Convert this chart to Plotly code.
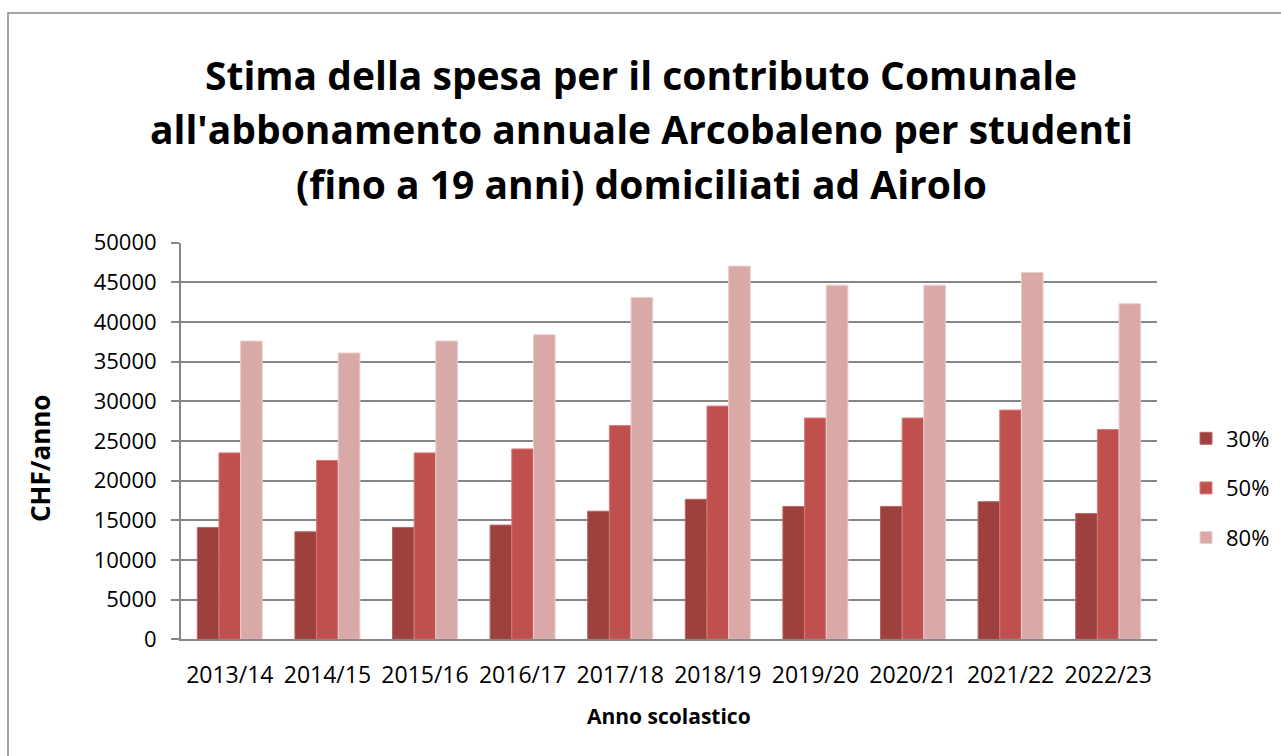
import plotly.graph_objects as go

W, H = 1281, 756

categories = ["2013/14", "2014/15", "2015/16", "2016/17", "2017/18",
              "2018/19", "2019/20", "2020/21", "2021/22", "2022/23"]
series_names = ["30%", "50%", "80%"]
values_30 = [14100, 13550, 14100, 14400, 16150, 17650, 16750, 16750, 17350, 15850]
values_50 = [23500, 22550, 23500, 24000, 26950, 29400, 27900, 27900, 28900, 26450]
values_80 = [37600, 36100, 37600, 38400, 43100, 47050, 44650, 44650, 46250, 42300]
y_ticks = list(range(0, 50001, 5000))
title_lines = ["Stima della spesa per il contributo Comunale",
               "all'abbonamento annuale Arcobaleno per studenti",
               "(fino a 19 anni) domiciliati ad Airolo"]

colors = ["#9E403E", "#C0504D", "#D9A9A8"]
edge = ["#B86664", "#D87C79", "#EBCFCE"]

font = "'Open Sans', sans-serif"

fig = go.Figure()
for name, vals, c, e in zip(series_names, [values_30, values_50, values_80], colors, edge):
    fig.add_trace(go.Bar(x=categories, y=vals, name=name, legendgroup=name,
                         marker=dict(color=c, line=dict(color=e, width=1))))

def px(x):
    return x / W

def py(y):
    return 1 - y / H

annotations = []
for line, yc in zip(title_lines, [75, 128, 183]):
    annotations.append(dict(text="<b>" + line + "</b>", x=px(641), y=py(yc),
                            xref="paper", yref="paper", xanchor="center", yanchor="middle",
                            showarrow=False, font=dict(size=39, family=font, color="#000000")))
annotations += [
    dict(text="<b>CHF/anno</b>", x=px(40), y=py(459), xref="paper", yref="paper",
         textangle=-90, showarrow=False, xanchor="center", yanchor="middle",
         font=dict(size=26, family=font)),
    dict(text="<b>Anno scolastico</b>", x=px(669), y=py(716), xref="paper", yref="paper",
         showarrow=False, xanchor="center", yanchor="middle",
         font=dict(size=21, family=font)),
]

fig.update_layout(
    width=W, height=H, autosize=False,
    margin=dict(l=0, r=0, t=0, b=0, autoexpand=False),
    paper_bgcolor="white", plot_bgcolor="white",
    barmode="group", bargap=0.334, bargroupgap=0,
    font=dict(family=font, color="#000000"),
    showlegend=True,
    legend=dict(x=px(1186), y=py(488), xanchor="left", yanchor="middle",
                font=dict(size=22, family=font), tracegroupgap=18,
                itemwidth=30, bgcolor="rgba(0,0,0,0)"),
    xaxis=dict(domain=[px(181), px(1157)], showgrid=False, showline=True,
               linecolor="#868686", linewidth=2, ticks="", automargin=False,
               tickfont=dict(size=23, family=font), ticklabelstandoff=14),
    yaxis=dict(domain=[py(639.3), py(242.7)], range=[0, 50000], automargin=False,
               tickvals=y_ticks, ticktext=[str(v) for v in y_ticks],
               showgrid=True, gridcolor="#868686", gridwidth=1.5,
               showline=True, linecolor="#868686", linewidth=2,
               ticks="outside", ticklen=8, tickcolor="#868686", tickwidth=1.5,
               ticklabelstandoff=10,
               tickfont=dict(size=22, family=font), zeroline=False),
    shapes=[dict(type="rect", xref="paper", yref="paper",
                 x0=px(8), x1=px(1290), y0=py(770), y1=py(13),
                 line=dict(color="#868686", width=1.5), layer="below")],
    annotations=annotations,
)

post = "document.body.style.margin='0';"
fig.write_html("out.html", post_script=post, config={"displayModeBar": False})
